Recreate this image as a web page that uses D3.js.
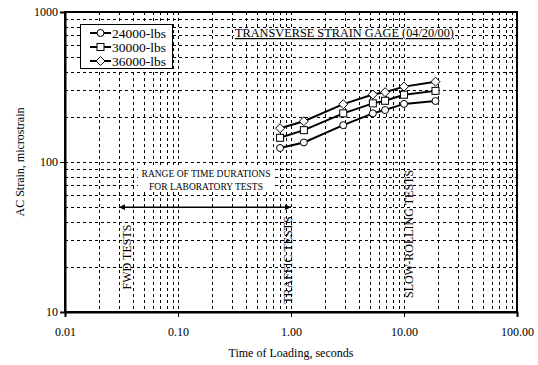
<!DOCTYPE html>
<html>
<head>
<meta charset="utf-8">
<script src="https://cdnjs.cloudflare.com/ajax/libs/d3/7.8.5/d3.min.js"></script>
<style>
  body { margin: 0; background: #fff; }
  text { font-family: "Liberation Serif", "Times New Roman", serif; fill: #000; }
</style>
</head>
<body>
<script>
const w = 538;
const h = 365;
const plotLeft = 65, plotRight = 517, plotTop = 12, plotBottom = 312;

// data
const times = [0.8, 1.3, 2.9, 5.3, 6.8, 10, 19];
const loads = ["24000-lbs", "30000-lbs", "36000-lbs"];
const strain24 = [124, 135, 176, 211, 222, 244, 255];
const strain30 = [145, 163, 211, 246, 256, 281, 298];
const strain36 = [168, 187, 243, 282, 292, 318, 343];
const markers = ["circle", "square", "diamond"];
const xTicks = [0.01, 0.1, 1, 10, 100];
const yTicks = [10, 100, 1000];
const labRange = [0.03, 1.0];
const labRangeStrain = 50;

const svg = d3.select("body")
  .append("svg")
  .attr("width", w)
  .attr("height", h);

const xScale = d3.scaleLog().domain([0.01, 100]).range([plotLeft, plotRight]);
const yScale = d3.scaleLog().domain([10, 1000]).range([plotBottom, plotTop]);

// minor grid values
let xGrid = [];
for (let d = 0.01; d < 100; d *= 10) {
  for (let k = 1; k <= 10; k++) xGrid.push(d * k);
}
let yGrid = [];
for (let d = 10; d < 1000; d *= 10) {
  for (let k = 1; k <= 10; k++) yGrid.push(d * k);
}

svg.append("g")
  .selectAll("line")
  .data(xGrid.filter(v => v > 0.0101 && v < 99))
  .enter()
  .append("line")
  .attr("x1", d => Math.round(xScale(d)) + 0.5)
  .attr("x2", d => Math.round(xScale(d)) + 0.5)
  .attr("y1", plotTop)
  .attr("y2", plotBottom)
  .attr("stroke", "#000")
  .attr("stroke-dasharray", "3,3");

svg.append("g")
  .selectAll("line")
  .data(yGrid.filter(v => v > 10.1 && v < 990))
  .enter()
  .append("line")
  .attr("x1", plotLeft)
  .attr("x2", plotRight)
  .attr("y1", d => Math.round(yScale(d)) + 0.5)
  .attr("y2", d => Math.round(yScale(d)) + 0.5)
  .attr("stroke", "#000")
  .attr("stroke-dasharray", "3,3");

// frame
svg.append("rect")
  .attr("x", plotLeft)
  .attr("y", plotTop)
  .attr("width", plotRight - plotLeft)
  .attr("height", plotBottom - plotTop)
  .attr("fill", "none")
  .attr("stroke", "#000")
  .attr("stroke-width", 2);

// axes
const xAxis = d3.axisBottom(xScale)
  .tickValues(xTicks)
  .tickFormat(d3.format(".2f"))
  .tickSize(5)
  .tickPadding(10);
const xg = svg.append("g")
  .attr("transform", `translate(0, ${plotBottom})`)
  .call(xAxis);
xg.select(".domain").attr("stroke-width", 2);
xg.selectAll("text").style("font-size", "12px").style("font-family", "Liberation Serif");

const yAxis = d3.axisLeft(yScale)
  .tickValues(yTicks)
  .tickFormat(d3.format("d"))
  .tickSize(5)
  .tickPadding(2);
const yg = svg.append("g")
  .attr("transform", `translate(${plotLeft}, 0)`)
  .call(yAxis);
yg.select(".domain").attr("stroke-width", 2);
yg.selectAll("text").style("font-size", "12px").style("font-family", "Liberation Serif");

svg.append("text")
  .attr("x", (plotLeft + plotRight) / 2)
  .attr("y", 357)
  .attr("text-anchor", "middle")
  .style("font-size", "12px")
  .text("Time of Loading, seconds");

svg.append("text")
  .attr("transform", `translate(24, ${(plotTop + plotBottom) / 2}) rotate(-90)`)
  .attr("text-anchor", "middle")
  .style("font-size", "12px")
  .text("AC Strain, microstrain");

// title with white background
const titleBg = svg.append("rect").attr("fill", "#fff");
const title = svg.append("text")
  .attr("x", 235)
  .attr("y", 37)
  .style("font-size", "12.3px")
  .style("text-decoration", "underline")
  .text("TRANSVERSE STRAIN GAGE (04/20/00)");
const tb = title.node().getBBox();
titleBg
  .attr("x", tb.x - 1)
  .attr("y", tb.y + 2)
  .attr("width", tb.width + 2)
  .attr("height", tb.height - 2);

// lab range annotation
const labLines = ["RANGE OF TIME DURATIONS", "FOR LABORATORY TESTS"];
const labG = svg.append("g");
labG.append("rect")
  .attr("x", 138)
  .attr("y", 166)
  .attr("width", 136)
  .attr("height", 26)
  .attr("fill", "#fff");
labG.selectAll("text")
  .data(labLines)
  .enter()
  .append("text")
  .attr("x", 206)
  .attr("y", (d, i) => 177 + i * 13)
  .attr("text-anchor", "middle")
  .style("font-size", "9.5px")
  .text(d => d);

const defs = svg.append("defs");
defs.append("marker")
  .attr("id", "arrow")
  .attr("viewBox", "0 0 10 10")
  .attr("refX", 10)
  .attr("refY", 5)
  .attr("markerWidth", 9)
  .attr("markerHeight", 6)
  .attr("markerUnits", "userSpaceOnUse")
  .attr("orient", "auto-start-reverse")
  .append("path")
  .attr("d", "M0,0 L10,5 L0,10 Z")
  .attr("fill", "#000");

svg.append("line")
  .attr("x1", xScale(labRange[0]))
  .attr("x2", xScale(labRange[1]))
  .attr("y1", yScale(labRangeStrain))
  .attr("y2", yScale(labRangeStrain))
  .attr("stroke", "#000")
  .attr("stroke-width", 1.5)
  .attr("marker-start", "url(#arrow)")
  .attr("marker-end", "url(#arrow)");

// vertical test labels
const testLabels = [
  { text: "FWD TESTS", x: 131, y: 257 },
  { text: "TRAFFIC TESTS", x: 292, y: 260 },
  { text: "SLOW-ROLLING TESTS", x: 413, y: 234 }
];
svg.selectAll(".tlab")
  .data(testLabels)
  .enter()
  .append("text")
  .attr("class", "tlab")
  .attr("transform", d => `translate(${d.x}, ${d.y}) rotate(-90)`)
  .attr("text-anchor", "middle")
  .style("font-size", "12px")
  .text(d => d.text);

// series
const series = [strain24, strain30, strain36].map((vals, i) => ({
  name: loads[i],
  marker: markers[i],
  points: vals.map((v, j) => ({ t: times[j], s: v }))
}));

const line = d3.line()
  .x(d => xScale(d.t))
  .y(d => yScale(d.s));

function drawMarker(g, type, x, y) {
  if (type === "circle") {
    g.append("circle").attr("cx", x).attr("cy", y).attr("r", 3.5)
      .attr("fill", "#fff").attr("stroke", "#000").attr("stroke-width", 1);
  } else if (type === "square") {
    g.append("rect").attr("x", x - 3.5).attr("y", y - 3.5).attr("width", 7).attr("height", 7)
      .attr("fill", "#fff").attr("stroke", "#000").attr("stroke-width", 1);
  } else {
    g.append("path").attr("d", `M${x},${y - 4.5}L${x + 4.5},${y}L${x},${y + 4.5}L${x - 4.5},${y}Z`)
      .attr("fill", "#fff").attr("stroke", "#000").attr("stroke-width", 1);
  }
}

series.forEach(sr => {
  svg.append("path")
    .datum(sr.points)
    .attr("d", line)
    .attr("fill", "none")
    .attr("stroke", "#000")
    .attr("stroke-width", 2);
  const mg = svg.append("g");
  sr.points.forEach(p => drawMarker(mg, sr.marker, xScale(p.t), yScale(p.s)));
});

// legend
const legend = svg.append("g");
legend.append("rect")
  .attr("x", 80.5)
  .attr("y", 24.5)
  .attr("width", 92)
  .attr("height", 44)
  .attr("fill", "#fff")
  .attr("stroke", "#000");
series.forEach((sr, i) => {
  const y = 33 + i * 14;
  legend.append("line")
    .attr("x1", 90).attr("x2", 111)
    .attr("y1", y).attr("y2", y)
    .attr("stroke", "#000").attr("stroke-width", 2);
  drawMarker(legend, sr.marker, 100.5, y);
  legend.append("text")
    .attr("x", 112)
    .attr("y", y + 4.5)
    .style("font-size", "13.5px")
    .text(sr.name);
});
</script>
</body>
</html>
